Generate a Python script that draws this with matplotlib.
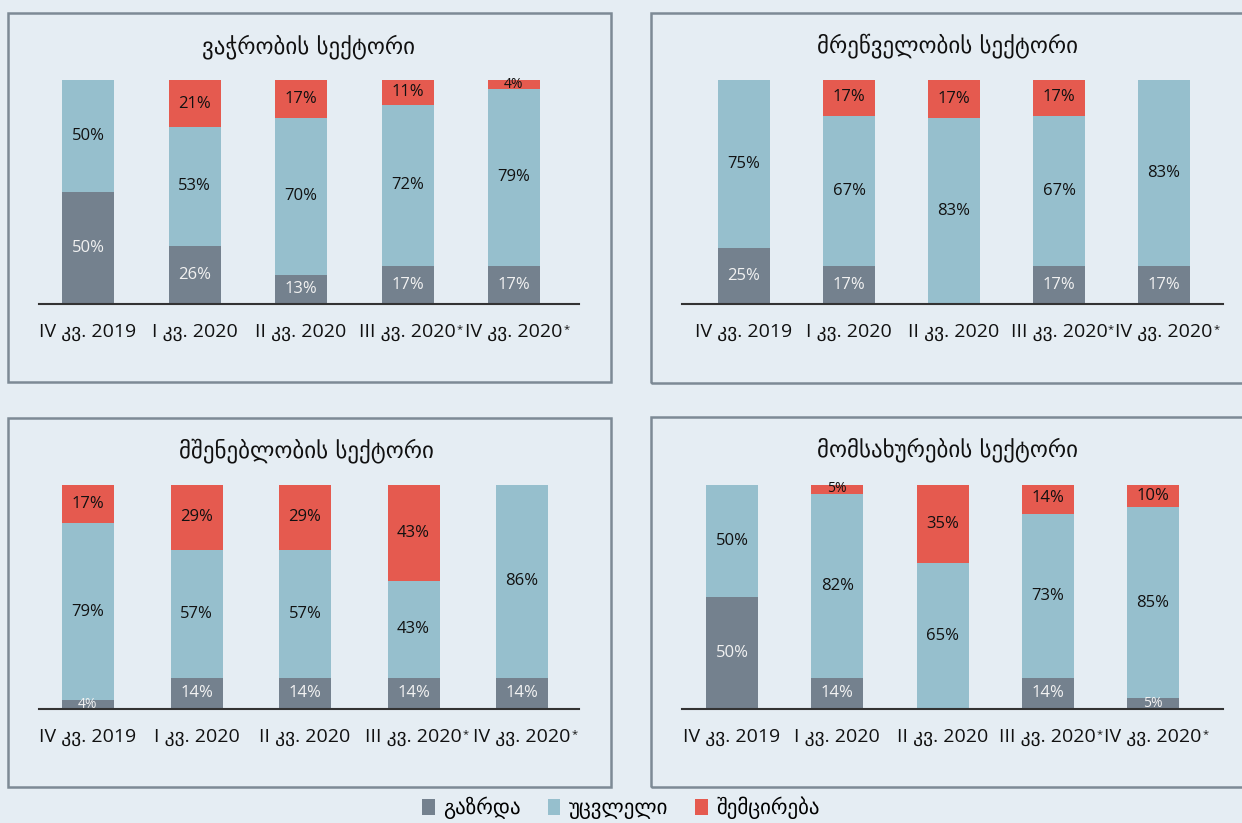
import matplotlib
matplotlib.use("Agg")
import matplotlib.pyplot as plt
from matplotlib.patches import Rectangle, Patch

# ---------------- data ----------------
categories = ['IV კვ. 2019', 'I კვ. 2020', 'II კვ. 2020', 'III კვ. 2020*', 'IV კვ. 2020*']
titles = ['ვაჭრობის სექტორი', 'მრეწველობის სექტორი',
          'მშენებლობის სექტორი', 'მომსახურების სექტორი']
series_names = ['გაზრდა', 'უცვლელი', 'შემცირება']

trade_growth = [50, 26, 13, 17, 17]
trade_same = [50, 53, 70, 72, 79]
trade_decrease = [0, 21, 17, 11, 4]

industry_growth = [25, 17, 0, 17, 17]
industry_same = [75, 67, 83, 67, 83]
industry_decrease = [0, 17, 17, 17, 0]

construction_growth = [4, 14, 14, 14, 14]
construction_same = [79, 57, 57, 43, 86]
construction_decrease = [17, 29, 29, 43, 0]

services_growth = [50, 14, 0, 14, 5]
services_same = [50, 82, 65, 73, 85]
services_decrease = [0, 5, 35, 14, 10]

# ---------------- style ----------------
BG = '#e5edf3'
C_GROWTH = '#74818e'
C_SAME = '#96bfcd'
C_DEC = '#e55a4f'
C_BORDER = '#7d8a95'
LAT = ['Open Sans', 'DejaVu Sans']
GEO = ['DejaVu Sans']

W, H = 1242, 823
fig = plt.figure(figsize=(W / 100, H / 100), dpi=100)
fig.patch.set_facecolor(BG)

panels = [
    dict(g=trade_growth, s=trade_same, d=trade_decrease, title=titles[0],
         box=(8, 13, 611, 382), axis=(39, 579), base=304, c0=88, c1=514, tpos=(308, 47)),
    dict(g=industry_growth, s=industry_same, d=industry_decrease, title=titles[1],
         box=(651, 13, 1256, 383), axis=(682, 1223), base=304, c0=744, c1=1164, tpos=(948, 46)),
    dict(g=construction_growth, s=construction_same, d=construction_decrease, title=titles[2],
         box=(8, 418, 611, 787), axis=(39, 579), base=709, c0=88, c1=522, tpos=(306, 451)),
    dict(g=services_growth, s=services_same, d=services_decrease, title=titles[3],
         box=(651, 417, 1256, 787), axis=(682, 1223), base=709, c0=732, c1=1153, tpos=(948, 450)),
]

FULL = 224  # px height of 100%
star_labels = []

for p in panels:
    x0, y0, x1, y1 = p['box']
    fig.add_artist(Rectangle((x0 / W, 1 - y1 / H), (x1 - x0) / W, (y1 - y0) / H,
                             transform=fig.transFigure, facecolor='none',
                             edgecolor=C_BORDER, lw=1.8, zorder=0))
    fig.text(p['tpos'][0] / W, 1 - p['tpos'][1] / H, p['title'], ha='center', va='center',
             fontsize=16.5, family=GEO, color='#111111')

    al, ar = p['axis']
    ax = fig.add_axes([al / W, 1 - p['base'] / H, (ar - al) / W, FULL / H])
    ax.set_facecolor('none')
    step = (p['c1'] - p['c0']) / 4
    ax.set_xlim((al - p['c0']) / step, (ar - p['c0']) / step)
    ax.set_ylim(0, 100)
    bw = 52 / step
    xs = list(range(len(categories)))
    g, s, d = p['g'], p['s'], p['d']
    bot2 = [a + b for a, b in zip(g, s)]
    ax.bar(xs, g, width=bw, color=C_GROWTH, zorder=2)
    ax.bar(xs, s, width=bw, bottom=g, color=C_SAME, zorder=2)
    ax.bar(xs, d, width=bw, bottom=bot2, color=C_DEC, zorder=2)

    for i in xs:
        for val, bot, col in ((g[i], 0, '#f2f2f2'), (s[i], g[i], '#111111'), (d[i], bot2[i], '#111111')):
            if val > 0:
                fs = 12 if val >= 10 else 10
                ax.text(i, bot + val / 2, f'{val}%', ha='center', va='center',
                        fontsize=fs, color=col, family=LAT, zorder=3, clip_on=False)

    for sp in ['top', 'right', 'left']:
        ax.spines[sp].set_visible(False)
    ax.spines['bottom'].set_color('#333333')
    ax.spines['bottom'].set_linewidth(1.5)
    ax.spines['bottom'].set_zorder(4)
    ax.set_yticks([])
    ax.set_xticks(xs)
    ax.set_xticklabels([c.replace('*', '') for c in categories], family=LAT, fontsize=14,
                       color='#111111')
    ax.tick_params(axis='x', length=0, pad=14)
    for lab, c in zip(ax.get_xticklabels(), categories):
        if c.endswith('*'):
            star_labels.append(lab)

handles = [Patch(facecolor=c, edgecolor='none') for c in (C_GROWTH, C_SAME, C_DEC)]
leg = fig.legend(handles, series_names, loc='center', bbox_to_anchor=(0.5, 1 - 808 / H),
                 ncol=3, frameon=False, prop={'family': GEO, 'size': 15},
                 handlelength=0.6, handleheight=0.8, handletextpad=0.4, columnspacing=1.3)

fig.canvas.draw()
r = fig.canvas.get_renderer()
for lab in star_labels:
    bb = lab.get_window_extent(r)
    fig.text((bb.x1 + 0.5) / W, (bb.y1 - 1) / H, '*', ha='left', va='top',
             fontsize=8, family=LAT, color='#111111')

fig.savefig('out.png', dpi=100, facecolor=BG)
